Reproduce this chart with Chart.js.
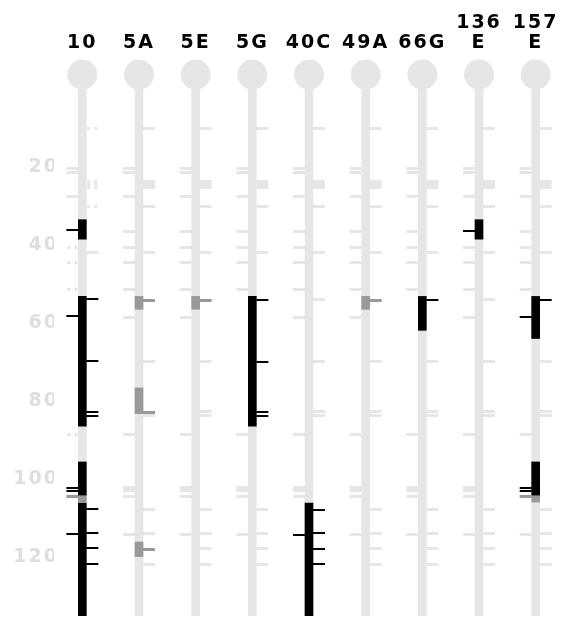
<!DOCTYPE html>
<html>
<head>
<meta charset="utf-8">
<script src="https://cdn.jsdelivr.net/npm/chart.js@4"></script>
<style>
  html, body { margin: 0; padding: 0; background: #fff; overflow: hidden; }
  #mapa { display: block; width: 100vw !important; height: 100vh !important; }
</style>
</head>
<body>
<canvas id="mapa" width="579" height="631"></canvas>
<script>
// -- dados --
const colunas = ['10', '5A', '5E', '5G', '40C', '49A', '66G', '136E', '157E'];
const rotulosColunas = [['10'], ['5A'], ['5E'], ['5G'], ['40C'], ['49A'], ['66G'], ['136', 'E'], ['157', 'E']];
const marcasEixoY = [20, 40, 60, 80, 100, 120];

// marcas de referência (cinza claro), as mesmas em todas as colunas
const marcasDir = [10, 23.75, 24.5, 25.25, 30, 42, 54, 70, 82.75, 83.8, 108, 114, 118, 122];
const marcasEsq = [20.4, 21.4, 27.5, 36.5, 40.6, 44.6, 51.5, 58.5, 88.6, 102.3, 103.1, 104.6, 114.4];
const pontilhadas10 = [10, 23.75, 24.5, 25.25, 30, 40.6, 44.6, 51.5, 88.6];

// trechos destacados: [coluna, início, fim]
const trechosPretos = [
  ['10', 33.5, 38.5], ['10', 53.2, 86.5], ['10', 95.7, 104.2], ['10', 106.25, 140],
  ['5G', 53.2, 86.5], ['40C', 106.25, 140], ['66G', 53.2, 61.9],
  ['136E', 33.5, 38.5], ['157E', 53.2, 64], ['157E', 95.7, 104.2]
];
const trechosCinzas = [
  ['10', 104.2, 106], ['5A', 53.2, 56.5], ['5A', 76.7, 83.3], ['5A', 116.25, 120],
  ['5E', 53.2, 56.5], ['49A', 53.2, 56.5], ['157E', 104.2, 106]
];

// marcas destacadas: [coluna, valor]
const pretasDir = [
  ['10', 53.8], ['10', 69.8], ['10', 82.75], ['10', 83.8], ['10', 107.9], ['10', 113.9], ['10', 117.9], ['10', 121.9],
  ['5G', 54], ['5G', 70], ['5G', 82.75], ['5G', 83.8],
  ['40C', 108], ['40C', 114], ['40C', 118], ['40C', 122],
  ['66G', 54], ['157E', 54]
];
const pretasEsq = [
  ['10', 36.25], ['10', 58.3], ['10', 102.3], ['10', 103.1], ['10', 114.3],
  ['40C', 114.4], ['136E', 36.5], ['157E', 58.4], ['157E', 102.3], ['157E', 103.1]
];
const cinzasDir = [['5A', 54.2], ['5A', 82.9], ['5A', 118.2], ['5E', 54.2], ['49A', 54.2]];
const cinzasEsq = [['10', 104.6], ['157E', 104.6]];

const topoTrilha = -3.75;
const fimTrilha = 140;

const CLARO = '#e6e6e6';
const CINZA = '#999999';
const PRETO = '#000000';

// -- imagens das marcas --
function criarMarca(lado, cor, altura, pontilhada) {
  const c = document.createElement('canvas');
  c.width = 34;
  c.height = altura;
  const g = c.getContext('2d');
  g.fillStyle = cor;
  if (pontilhada) {
    if (lado === 'dir') { g.fillRect(22, 0, 3, altura); g.fillRect(29, 0, 3, altura); }
    else { g.fillRect(9, 0, 3, altura); g.fillRect(2, 0, 3, altura); }
  } else {
    g.fillRect(lado === 'dir' ? 21 : 1, 0, 12, altura);
  }
  return c;
}

function dentroDeTrecho(col, v) {
  return trechosPretos.concat(trechosCinzas).some(([c, a, b]) => c === col && v >= a && v <= b);
}

function marcasClaras(lista, pontilhada) {
  const pts = [];
  colunas.forEach(col => {
    lista.forEach(v => {
      if (dentroDeTrecho(col, v)) return;
      const pont = col === '10' && pontilhadas10.includes(v);
      if (pont === pontilhada) pts.push({ x: col, y: v });
    });
  });
  return pts;
}

const pontos = lista => lista.map(([c, v]) => ({ x: c, y: v }));
const barras = lista => lista.map(([c, a, b]) => ({ x: c, y: [a, b] }));

function dsMarca(data, img, ordem) {
  return {
    type: 'line', data, showLine: false, order: ordem,
    pointStyle: img, pointRadius: 3, pointHoverRadius: 3, borderWidth: 0,
    clip: false
  };
}

const espacamento = {
  id: 'espacamento',
  beforeLayout(chart) { chart.ctx.letterSpacing = '2px'; },
  beforeDraw(chart) { chart.ctx.letterSpacing = '2px'; }
};

const fonte = { family: 'DejaVu Sans', size: 19, weight: 'bold' };

new Chart(document.getElementById('mapa').getContext('2d'), {
  type: 'bar',
  data: {
    labels: colunas,
    datasets: [
      {
        data: colunas.map(c => ({ x: c, y: [topoTrilha, fimTrilha] })),
        backgroundColor: CLARO, barThickness: 8, grouped: false, borderWidth: 0, order: 10
      },
      dsMarca(marcasClaras(marcasDir, false), criarMarca('dir', CLARO, 3, false), 9),
      dsMarca(marcasClaras(marcasEsq, false), criarMarca('esq', CLARO, 3, false), 9),
      dsMarca(marcasClaras(marcasDir, true), criarMarca('dir', CLARO, 3, true), 9),
      dsMarca(marcasClaras(marcasEsq, true), criarMarca('esq', CLARO, 3, true), 9),
      {
        type: 'line', data: colunas.map(c => ({ x: c, y: topoTrilha })), showLine: false, order: 8,
        pointStyle: 'circle', pointRadius: 15, pointHoverRadius: 15, pointBackgroundColor: CLARO,
        pointBorderWidth: 0, borderWidth: 0, clip: false
      },
      {
        data: barras(trechosPretos),
        backgroundColor: PRETO, barThickness: 8, grouped: false, borderWidth: 0, order: 5
      },
      {
        data: barras(trechosCinzas),
        backgroundColor: CINZA, barThickness: 8, grouped: false, borderWidth: 0, order: 5
      },
      dsMarca(pontos(pretasDir), criarMarca('dir', PRETO, 2, false), 1),
      dsMarca(pontos(pretasEsq), criarMarca('esq', PRETO, 2, false), 1),
      dsMarca(pontos(cinzasDir), criarMarca('dir', CINZA, 3, false), 1),
      dsMarca(pontos(cinzasEsq), criarMarca('esq', CINZA, 3, false), 1)
    ]
  },
  options: {
    responsive: false,
    animation: false,
    events: [],
    devicePixelRatio: 1,
    layout: { padding: { left: 0, right: 3, top: 0, bottom: 0 } },
    plugins: { legend: { display: false }, tooltip: { enabled: false } },
    scales: {
      x: {
        position: 'top',
        offset: true,
        afterFit: s => { s.height = 60; },
        grid: { display: false, drawTicks: false },
        border: { display: false },
        ticks: {
          color: '#000',
          font: { ...fonte, lineHeight: 1.05 },
          padding: 7,
          maxRotation: 0,
          autoSkip: false,
          callback: (v, i) => rotulosColunas[i]
        }
      },
      y: {
        reverse: true,
        min: -7.5,
        max: 135.25,
        afterBuildTicks: s => { s.ticks = marcasEixoY.map(v => ({ value: v })); },
        afterFit: s => { s.width = 54; },
        grid: { display: false, drawTicks: false },
        border: { display: false },
        ticks: { color: '#dedede', font: fonte, padding: -5 }
      }
    }
  },
  plugins: [espacamento]
});
</script>
</body>
</html>
